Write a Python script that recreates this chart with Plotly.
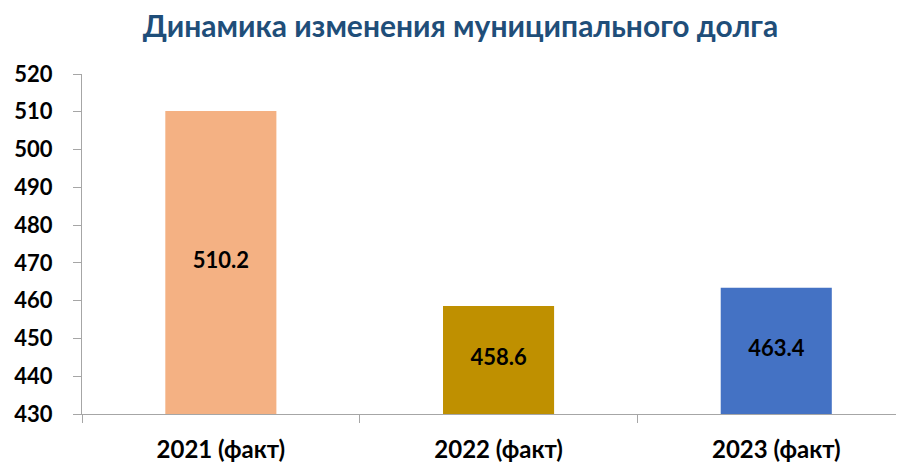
import plotly.graph_objects as go

categories = ["2021 (факт)", "2022 (факт)", "2023 (факт)"]
values = [510.2, 458.6, 463.4]
colors = ["#F4B183", "#BF9000", "#4472C4"]
title_text = "Динамика изменения муниципального долга"
y_ticks = [430, 440, 450, 460, 470, 480, 490, 500, 510, 520]
Y_MIN, Y_MAX = 430, 520

FONT = "Lato"

fig = go.Figure()
fig.add_trace(
    go.Bar(
        x=categories,
        y=values,
        marker=dict(color=colors, line=dict(width=0)),
        width=0.4,
        hoverinfo="x+y",
    )
)
# value labels centred in the visible part of each bar
fig.add_trace(
    go.Scatter(
        x=categories,
        y=[(Y_MIN + v) / 2 for v in values],
        mode="text",
        text=[f"<b>{v:.1f}</b>" for v in values],
        textposition="middle center",
        textfont=dict(family=FONT, size=22, color="#000000"),
        hoverinfo="skip",
    )
)

# page body has an 8px margin, so the figure is sized/offset to compensate
fig.update_layout(
    width=896,
    height=455,
    margin=dict(l=74, r=0, t=66, b=49),
    paper_bgcolor="white",
    plot_bgcolor="white",
    showlegend=False,
    title=dict(
        text="<b>" + title_text + "</b>",
        x=0.505,
        xanchor="center",
        y=0.96,
        yanchor="middle",
        font=dict(family=FONT, size=30, color="#1F4E79"),
    ),
    xaxis=dict(
        type="category",
        range=[-0.5, 2.46],
        tickson="boundaries",
        ticks="outside",
        ticklen=8,
        tickcolor="#A6A6A6",
        showline=True,
        linecolor="#A6A6A6",
        linewidth=1,
        showgrid=False,
        ticklabelstandoff=14,
        automargin=False,
        tickfont=dict(family=FONT, size=24, color="#000000", weight="bold"),
    ),
    yaxis=dict(
        range=[Y_MIN, Y_MAX],
        tickvals=y_ticks,
        ticks="outside",
        ticklen=8,
        tickcolor="#A6A6A6",
        showline=True,
        linecolor="#A6A6A6",
        linewidth=1,
        showgrid=False,
        zeroline=False,
        ticklabelstandoff=16,
        automargin=False,
        tickfont=dict(family=FONT, size=22, color="#000000", weight="bold"),
    ),
)

fig.write_html("out.html")
